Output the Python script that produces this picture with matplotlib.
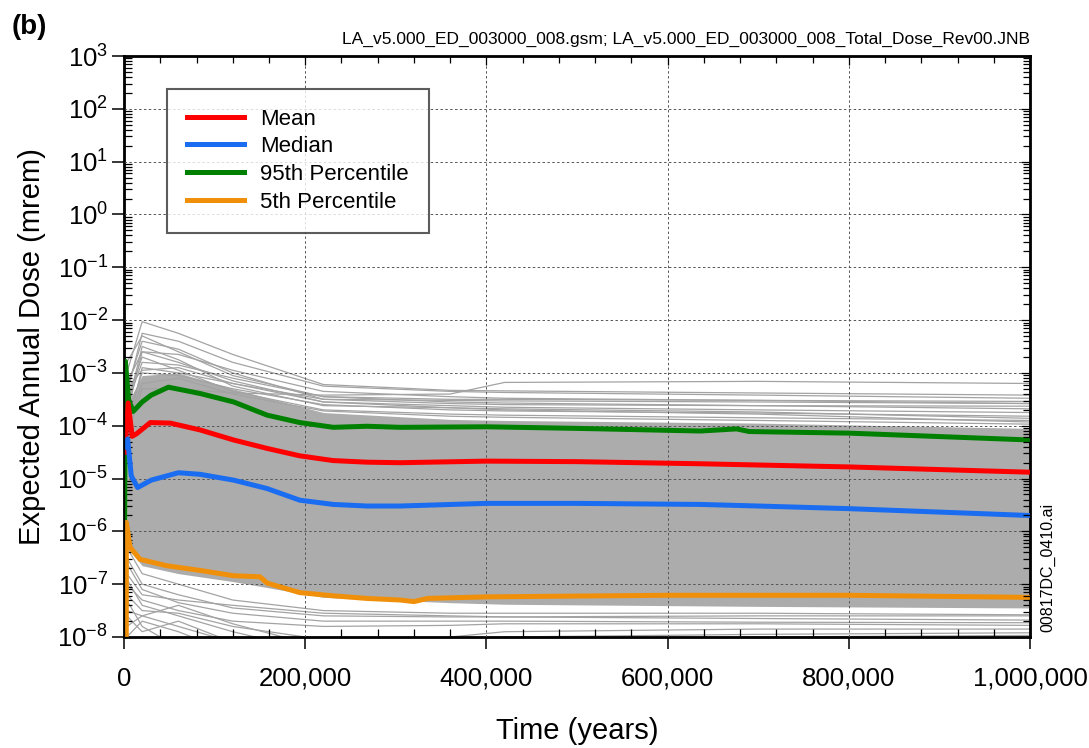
import numpy as np
import matplotlib
matplotlib.use("Agg")
import matplotlib.pyplot as plt
from matplotlib.ticker import LogLocator, MultipleLocator, FuncFormatter, NullFormatter, LogFormatterSciNotation

plt.rcParams['font.family'] = ['Liberation Sans', 'DejaVu Sans']
plt.rcParams['mathtext.fontset'] = 'custom'
plt.rcParams['mathtext.rm'] = 'Liberation Sans'
plt.rcParams['mathtext.it'] = 'Liberation Sans'
plt.rcParams['mathtext.bf'] = 'Liberation Sans:bold'

# ---------------- data (log10 of dose, mrem) ----------------
# statistics curves
mean_t = [1e3, 4.5e3, 9e3, 14e3, 29e3, 51e3, 84e3, 121e3, 158e3, 194e3, 231e3, 268e3,
          305e3, 400e3, 500e3, 636e3, 800e3, 1e6]
mean_log = [-4.5, -3.57, -4.2, -4.15, -3.94, -3.95, -4.08, -4.27, -4.43, -4.57, -4.66, -4.69,
            -4.70, -4.67, -4.68, -4.72, -4.78, -4.88]

median_t = [1e3, 4e3, 8e3, 15e3, 30e3, 60e3, 84e3, 121e3, 158e3, 194e3, 231e3, 268e3,
            305e3, 400e3, 500e3, 636e3, 700e3, 800e3, 1e6]
median_log = [-4.4, -4.25, -4.95, -5.17, -5.03, -4.89, -4.92, -5.03, -5.19, -5.41, -5.49, -5.52,
              -5.52, -5.47, -5.47, -5.49, -5.52, -5.57, -5.70]

p95_t = [0, 1.5e3, 5e3, 10e3, 20e3, 30e3, 49e3, 84e3, 121e3, 158e3, 194e3, 231e3, 268e3,
         305e3, 400e3, 500e3, 636e3, 676e3, 690e3, 800e3, 1e6]
p95_log = [-9, -2.78, -3.5, -3.73, -3.55, -3.42, -3.27, -3.39, -3.55, -3.80, -3.94, -4.03, -4.01,
           -4.03, -4.02, -4.05, -4.10, -4.06, -4.11, -4.14, -4.27]

p05_t = [0, 2.4e3, 2.6e3, 6.6e3, 17.7e3, 47e3, 84e3, 121e3, 150e3, 158e3, 194e3, 231e3, 268e3,
         305e3, 320e3, 335e3, 400e3, 600e3, 800e3, 1e6]
p05_log = [-9, -9, -5.83, -6.30, -6.53, -6.65, -6.74, -6.84, -6.86, -6.98, -7.16, -7.22, -7.27,
           -7.30, -7.33, -7.27, -7.24, -7.21, -7.21, -7.25]

# dense core of the realizations
core_t = [3e3, 2e4, 6e4, 1.2e5, 2.2e5, 3.6e5, 4.2e5, 7e5, 1e6]
core_hi = [-3.6, -3.05, -3.0, -3.3, -3.75, -3.88, -3.9, -3.95, -4.05]
core_lo = [-6.3, -6.65, -6.8, -6.95, -7.25, -7.35, -7.38, -7.42, -7.45]

# individual realizations outside the core
real_t = [0, 3e3, 2e4, 6e4, 1.2e5, 2.2e5, 3.6e5, 4.2e5, 7e5, 1e6]
real_log = [
    [-9, -3.0, -2.03, -2.25, -2.65, -3.22, -3.33, -3.34, -3.38, -3.42],
    [-9, -3.4, -2.25, -2.4, -2.8, -3.25, -3.35, -3.37, -3.42, -3.48],
    [-9, -4.2, -3.3, -3.3, -3.38, -3.42, -3.4, -3.18, -3.16, -3.2],
    [-9, -3.2, -2.6, -2.65, -2.95, -3.35, -3.45, -3.48, -3.52, -3.58],
    [-9, -3.6, -2.8, -2.85, -3.1, -3.45, -3.55, -3.57, -3.62, -3.68],
    [-9, -3.3, -2.95, -2.9, -3.2, -3.55, -3.62, -3.65, -3.7, -3.75],
    [-9, -3.9, -3.0, -3.05, -3.3, -3.6, -3.7, -3.72, -3.76, -3.82],
    [-9, -3.5, -2.7, -2.95, -3.35, -3.7, -3.78, -3.8, -3.85, -3.9],
    [-9, -4.0, -3.2, -3.1, -3.4, -3.72, -3.82, -3.84, -3.9, -3.97],
    [-9, -3.7, -2.5, -2.75, -3.25, -3.62, -3.66, -3.68, -3.74, -3.86],
    [-9, -3.3, -2.4, -2.55, -3.0, -3.5, -3.58, -3.6, -3.62, -3.63],
    [-9, -4.1, -2.9, -3.0, -3.2, -3.5, -3.52, -3.53, -3.55, -3.58],
    [-9, -2.8, -2.3, -2.6, -3.05, -3.45, -3.5, -3.5, -3.52, -3.54],
    [-9, -3.8, -2.6, -2.8, -3.15, -3.55, -3.66, -3.7, -3.78, -3.93],
    [-9, -6.3, -6.8, -7.0, -7.3, -7.5, -7.55, -7.55, -7.55, -7.58],
    [-9, -6.8, -7.2, -7.3, -7.4, -7.55, -7.6, -7.62, -7.65, -7.68],
    [-9, -7.0, -7.3, -7.5, -7.7, -7.8, -7.78, -7.75, -7.75, -7.78],
    [-9, -7.5, -7.6, -7.8, -8.1, -8.2, -8.0, -7.9, -7.85, -7.85],
    [-9, -6.9, -7.4, -7.6, -7.9, -8.3, -8.1, -8.0, -7.95, -7.92],
    [-9, -7.2, -7.5, -7.55, -7.8, -8.05, -8.15, -8.1, -8.05, -8.02],
    [-9, -6.5, -7.0, -7.2, -7.45, -7.6, -7.62, -7.62, -7.6, -7.6],
    [-9, -6.6, -7.1, -7.35, -7.55, -7.7, -7.7, -7.7, -7.72, -7.73],
    [-9, -8.0, -7.7, -7.9, -8.3, -8.5, -8.3, -8.1, -8.0, -7.97],
    [-9, -7.3, -7.8, -8.2, -8.6, -9, -9, -9, -9, -9],
    [-9, -7.6, -7.9, -7.7, -8.1, -8.6, -9, -9, -9, -9],
    [-9, -7.8, -7.6, -7.4, -7.75, -8.2, -8.5, -8.3, -8.15, -8.1],
]

title_right = "LA_v5.000_ED_003000_008.gsm; LA_v5.000_ED_003000_008_Total_Dose_Rev00.JNB"
GRAY = '#a3a3a3'

# ---------------- plot ----------------
fig = plt.figure(figsize=(10.89, 7.48), dpi=100)
ax = fig.add_axes([0.1139, 0.1484, 0.8320, 0.7767])

ax.fill_between(core_t, 10.0 ** np.array(core_hi), 10.0 ** np.array(core_lo),
                color='#acacac', lw=0, zorder=1)
for row in real_log:
    ax.plot(real_t, 10.0 ** np.array(row), color=GRAY, lw=0.9, zorder=1.5)

ax.plot(p95_t, 10.0 ** np.array(p95_log), color='#008000', lw=3.6, label='95th Percentile', zorder=3)
ax.plot(mean_t, 10.0 ** np.array(mean_log), color='#ff0000', lw=3.6, label='Mean', zorder=3)
ax.plot(median_t, 10.0 ** np.array(median_log), color='#1a6cf0', lw=3.6, label='Median', zorder=3)
ax.plot(p05_t, 10.0 ** np.array(p05_log), color='#f0900a', lw=3.6, label='5th Percentile', zorder=3)

ax.set_yscale('log')
ax.set_xlim(0, 1e6)
ax.set_ylim(1e-8, 1e3)
ax.xaxis.set_major_locator(MultipleLocator(2e5))
ax.xaxis.set_minor_locator(MultipleLocator(4e4))
ax.xaxis.set_major_formatter(FuncFormatter(lambda v, p: f"{int(round(v)):,}"))
ax.yaxis.set_major_locator(LogLocator(base=10, numticks=15))
ax.yaxis.set_minor_locator(LogLocator(base=10, subs=np.arange(2, 10), numticks=15))
ax.yaxis.set_major_formatter(LogFormatterSciNotation())
ax.yaxis.set_minor_formatter(NullFormatter())

ax.tick_params(which='major', direction='out', length=8.5, width=1.1, labelsize=18.5, pad=3)
ax.tick_params(which='minor', direction='in', length=5.5, width=0.9)
ax.tick_params(axis='x', pad=13)
ax.set_axisbelow(False)
ax.grid(True, which='major', ls=(0, (2.5, 2.5)), color='#555555', lw=0.7)
for s in ax.spines.values():
    s.set_linewidth(2.0)

ax.set_xlabel('Time (years)', fontsize=21, labelpad=19)
ax.set_ylabel('Expected Annual Dose (mrem)', fontsize=21, labelpad=8)

# top and right ticks pointing inward
ax2 = ax.twinx()
ax2.set_yscale('log')
ax2.set_ylim(1e-8, 1e3)
ax2.yaxis.set_major_locator(LogLocator(base=10, numticks=15))
ax2.yaxis.set_minor_locator(LogLocator(base=10, subs=np.arange(2, 10), numticks=15))
ax2.tick_params(which='both', direction='in', labelright=False, width=0.9)
ax2.tick_params(which='major', length=6.5)
ax2.tick_params(which='minor', length=5)
ax3 = ax.twiny()
ax3.set_xlim(0, 1e6)
ax3.xaxis.set_major_locator(MultipleLocator(2e5))
ax3.xaxis.set_minor_locator(MultipleLocator(4e4))
ax3.tick_params(which='both', direction='in', labeltop=False, width=0.9)
ax3.tick_params(which='major', length=6.5)
ax3.tick_params(which='minor', length=5)

handles, labels = ax.get_legend_handles_labels()
order = [labels.index(k) for k in ['Mean', 'Median', '95th Percentile', '5th Percentile']]
leg = ax3.legend([handles[i] for i in order], [labels[i] for i in order],
                 loc='upper left', bbox_to_anchor=(0.047, 0.944), fontsize=16,
                 frameon=True, fancybox=False, handlelength=2.6, handletextpad=0.7,
                 labelspacing=0.3, borderpad=0.9, borderaxespad=0)
leg.get_frame().set_edgecolor('#333333')
leg.get_frame().set_linewidth(1.5)

fig.text(0.011, 0.955, '(b)', fontsize=20, fontweight='bold')
fig.text(0.9458, 0.937, title_right, fontsize=12.5, ha='right', va='bottom')
fig.text(0.962, 0.155, '00817DC_0410.ai', fontsize=11.5, rotation=90, ha='center', va='bottom')

fig.savefig('out.png', dpi=100)
